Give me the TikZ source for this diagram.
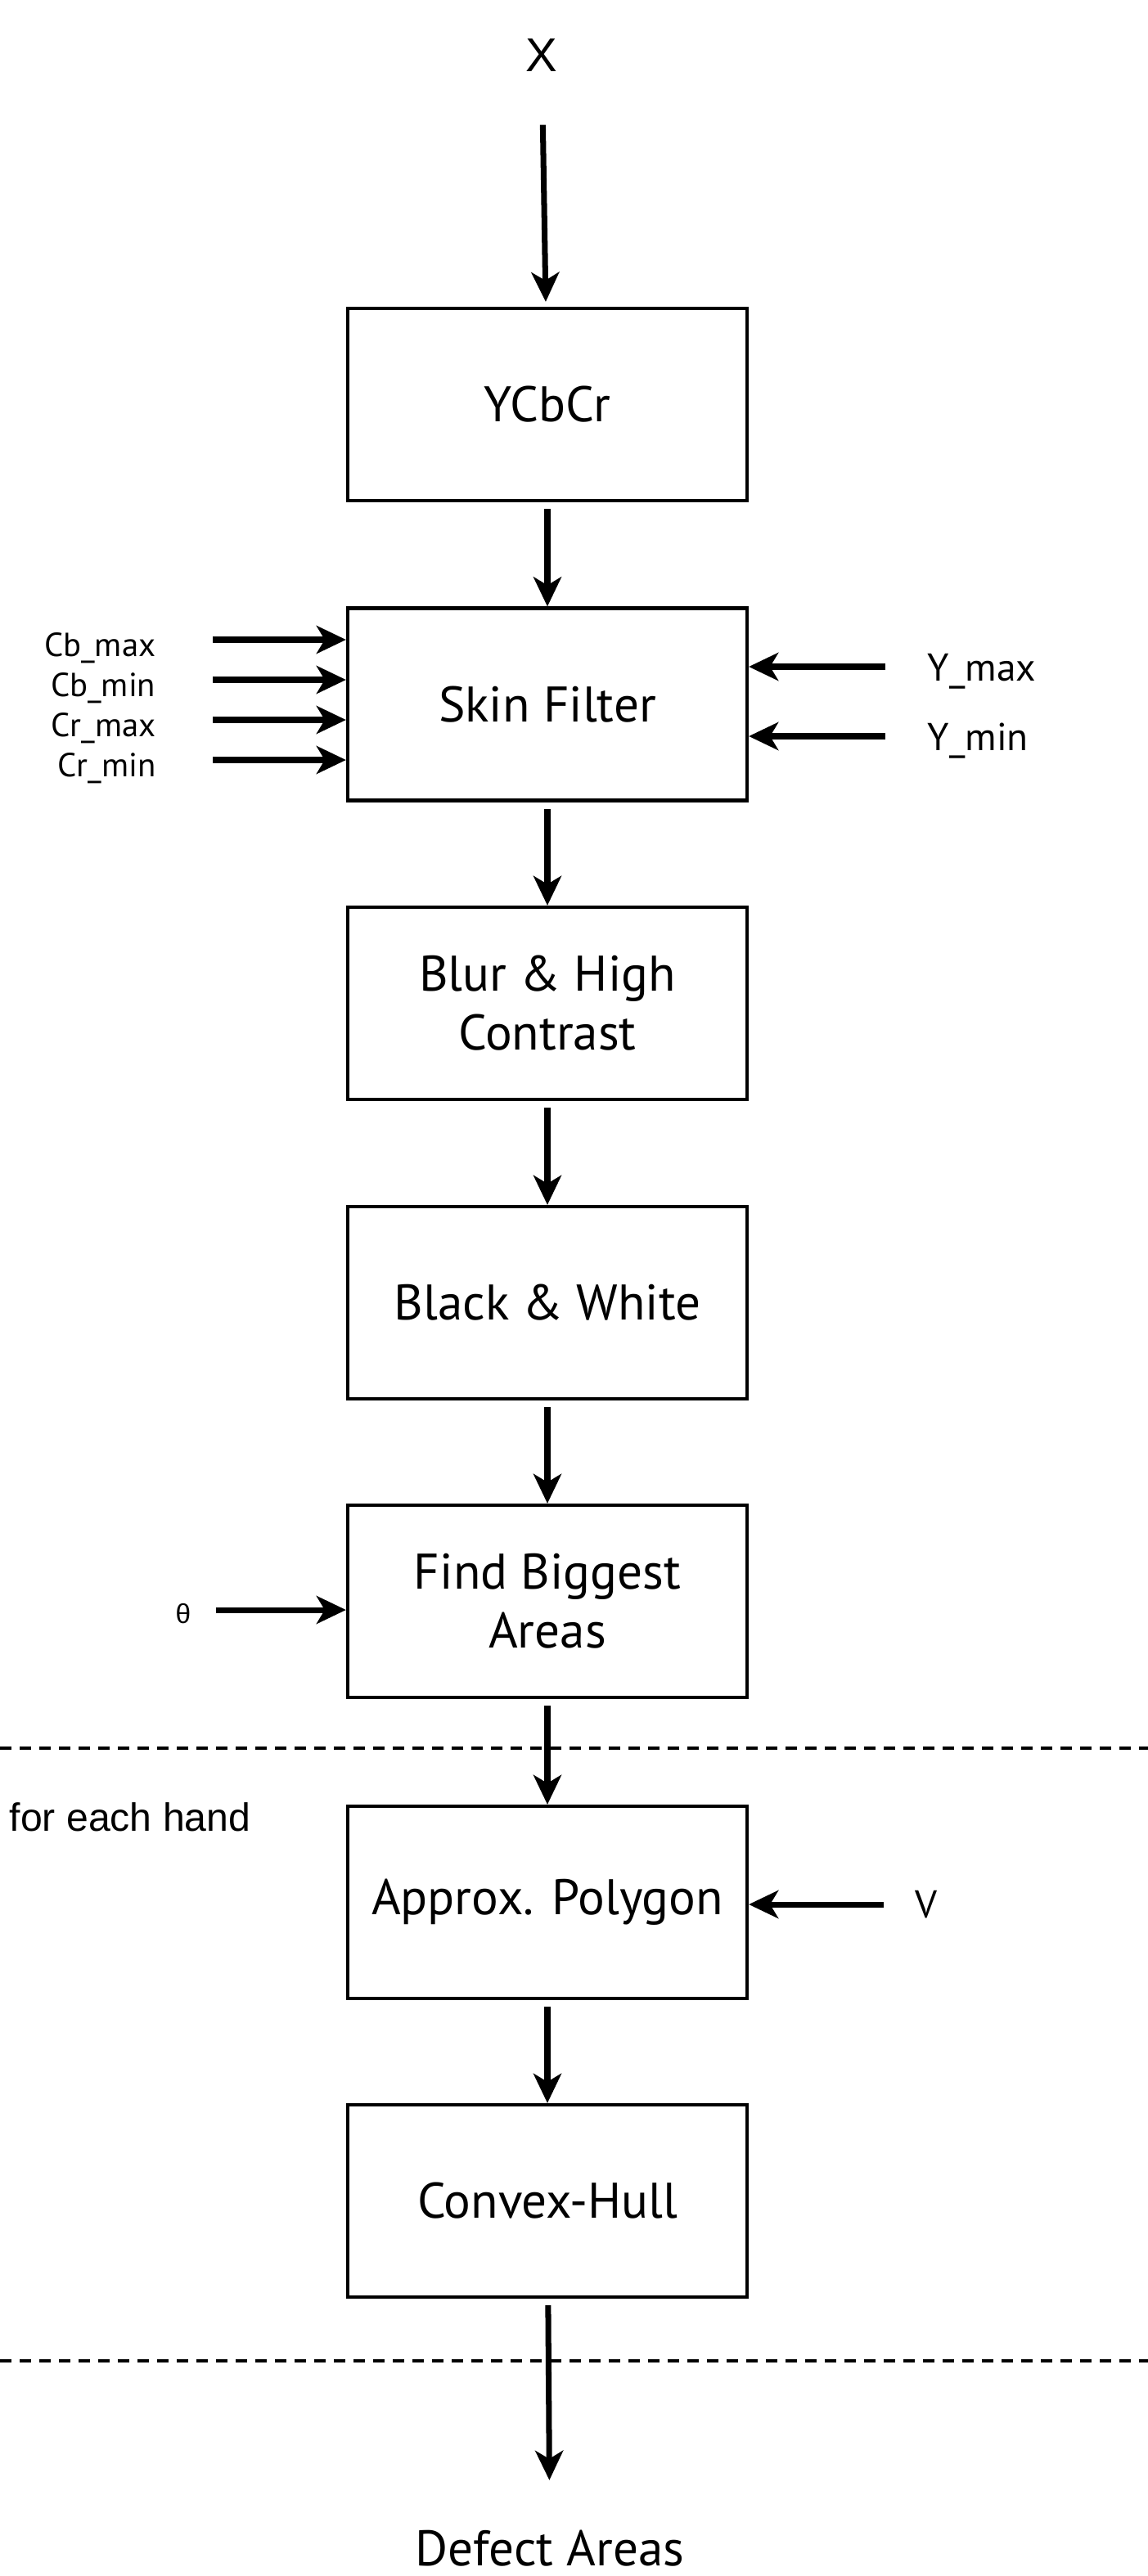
\documentclass[tikz,border=0pt]{standalone}
\usepackage{fontspec}
\setmainfont{PT Sans}
\newfontfamily\helv{Liberation Sans}
\usetikzlibrary{arrows.meta}

\begin{document}
\begin{tikzpicture}[
    blk/.style={draw, line width=1.2pt, minimum width=4.88cm, minimum height=2.35cm,
        align=center, inner sep=0pt, font=\fontsize{17.4}{20.5}\selectfont},
    flow/.style={-{Stealth[length=0.36cm, width=0.34cm, inset=0.1cm]}, line width=2pt},
    lbl/.style={inner sep=0pt, font=\fontsize{11.6}{13}\selectfont},
    rlbl/.style={inner sep=0pt, font=\fontsize{13.5}{16}\selectfont},
    sep/.style={line width=1.4pt, dash pattern=on 0.14cm off 0.1cm}
]
    \useasboundingbox (0,0) rectangle (14.03,-31.49);

    % Блоки
    \node[inner sep=0pt, anchor=base, font=\helv\fontsize{16.5}{18}\selectfont] (x) at (6.62,-0.87) {X};
    \node[blk] (ycbcr)  at (6.69,-4.945)  {YCbCr};
    \node[blk] (skin)   at (6.69,-8.61)   {Skin Filter};
    \node[blk] (blur)   at (6.69,-12.265) {Blur \& High\\Contrast};
    \node[blk] (bw)     at (6.69,-15.925) {Black \& White};
    \node[blk] (find)   at (6.69,-19.575) {Find Biggest\\Areas};
    \node[blk] (approx) at (6.69,-23.255) {Approx. Polygon};
    \node[blk] (convex) at (6.69,-26.905) {Convex-Hull};
    \node[inner sep=0pt, anchor=base, font=\fontsize{17.4}{20.5}\selectfont] (defect) at (6.72,-31.36) {Defect Areas};

    % Стрелки
    \draw[flow, shorten <=0.65cm, shorten >=0.06cm] (x) -- (ycbcr);
    \draw[flow, shorten <=0.08cm] (ycbcr) -- (skin);
    \draw[flow, shorten <=0.08cm] (skin) -- (blur);
    \draw[flow, shorten <=0.08cm] (blur) -- (bw);
    \draw[flow, shorten <=0.08cm] (bw) -- (find);
    \draw[flow, shorten <=0.08cm] (find) -- (approx);
    \draw[flow, shorten <=0.08cm] (approx) -- (convex);
    \draw[flow, shorten <=0.08cm, shorten >=0.6cm] (convex) -- (defect);

    % Входы слева
    \node[lbl, anchor=base east] (cbmax) at (1.91,-8.02) {Cb\_max};
    \node[lbl, anchor=base east] (cbmin) at (1.91,-8.51) {Cb\_min};
    \node[lbl, anchor=base east] (crmax) at (1.91,-9.00) {Cr\_max};
    \node[lbl, anchor=base east] (crmin) at (1.91,-9.49) {Cr\_min};
    \foreach \n in {cbmax, cbmin, crmax, crmin}
        \draw[flow] ([xshift=0.69cm, yshift=0.2cm]\n.base east) -- ([yshift=0.2cm]\n.base east -| skin.west);

    \node[inner sep=0pt, anchor=base, font=\helv\fontsize{9.5}{11}\selectfont] (theta) at (2.24,-19.84) {θ};
    \draw[flow] ([xshift=0.3cm, yshift=0.16cm]theta.base east) -- ([yshift=0.16cm]theta.base east -| find.west);

    % Входы справа
    \node[rlbl, anchor=base west] (ymax) at (11.33,-8.32) {Y\_max};
    \node[rlbl, anchor=base west] (ymin) at (11.33,-9.17) {Y\_min};
    \node[rlbl, anchor=base west] (v) at (11.18,-23.44) {V};
    \foreach \n in {ymax, ymin}
        \draw[flow] ([xshift=-0.51cm, yshift=0.17cm]\n.base west) -- ([yshift=0.17cm]\n.base west -| skin.east);
    \draw[flow] ([xshift=-0.38cm, yshift=0.16cm]v.base west) -- ([yshift=0.16cm]v.base west -| approx.east);

    % Цикл
    \draw[sep] (0,-21.37) -- (14.03,-21.37);
    \draw[sep] (0,-28.86) -- (14.03,-28.86);
    \node[inner sep=0pt, anchor=base west, font=\helv\fontsize{13.7}{16}\selectfont] (hand) at (0.11,-22.38) {for each hand};

\end{tikzpicture}
\end{document}
